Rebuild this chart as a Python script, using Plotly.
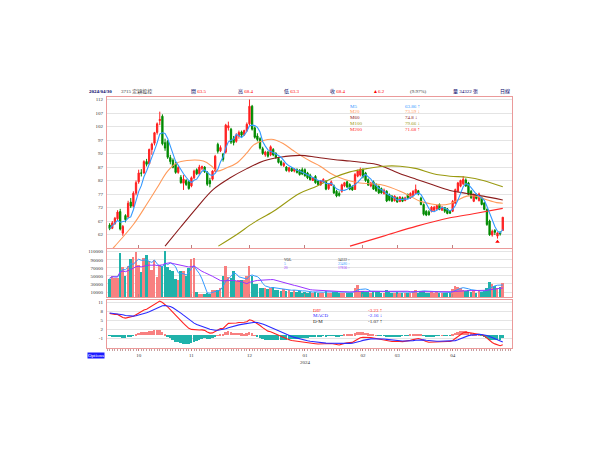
import plotly.graph_objects as go
import pandas as pd

# ---------------- data ----------------
opens = [65.5, 64.3, 66.0, 67.8, 70.5, 62.5, 69.0, 68.5, 74.0, 72.5,
         77.3, 81.5, 84.8, 84.8, 89.0, 88.2, 93.5, 95.8, 99.8, 104.2,
         105.8, 96.0, 96.5, 90.5, 89.5, 88.0, 85.0, 83.2, 81.0, 82.0,
         81.5, 80.0, 83.0, 86.0, 84.5, 86.5, 87.0, 85.0, 82.0, 82.5,
         85.5, 95.4, 93.0, 91.8, 92.5, 101.5, 101.0, 97.5, 96.5, 98.5,
         100.0, 99.0, 100.5, 103.0, 109.5, 101.5, 98.5, 97.5, 93.8, 91.5,
         92.5, 91.5, 93.5, 92.0, 90.2, 89.0, 87.5, 87.0, 85.5, 86.5,
         85.5, 86.0, 85.8, 86.0, 86.0, 84.8, 84.0, 82.0, 83.5, 81.8,
         80.5, 81.5, 81.8, 79.0, 80.2, 80.0, 78.0, 77.2, 78.0, 80.0,
         81.5, 80.5, 79.8, 78.7, 83.6, 84.0, 86.0, 84.8, 82.3, 80.0,
         81.5, 80.5, 79.8, 79.0, 77.2, 78.0, 76.8, 76.2, 74.5, 75.6,
         74.2, 75.6, 74.6, 76.8, 75.6, 76.5, 77.2, 78.2, 75.5, 73.1,
         70.6, 70.4, 70.6, 71.0, 71.5, 73.1, 71.0, 72.0, 71.5, 70.6,
         70.6, 73.6, 78.0, 79.9, 80.8, 82.2, 81.1, 78.0, 74.3, 76.8,
         74.6, 75.6, 73.7, 71.3, 67.0, 61.8, 63.5, 61.4, 62.8, 63.5]
highs = [66.2, 67.0, 68.5, 71.0, 71.5, 65.5, 69.5, 74.5, 75.5, 78.0,
         82.0, 86.0, 86.2, 89.5, 90.0, 93.8, 96.0, 100.0, 103.5, 107.5,
         106.5, 97.5, 97.0, 91.5, 90.2, 88.8, 87.5, 84.0, 84.0, 82.5,
         82.0, 83.5, 86.0, 86.5, 87.8, 87.5, 87.3, 85.5, 83.0, 85.8,
         91.5, 96.0, 95.0, 92.2, 103.0, 103.8, 101.5, 98.5, 99.5, 100.5,
         100.5, 100.8, 103.5, 112.0, 110.0, 102.0, 99.5, 98.0, 94.5, 93.0,
         93.0, 95.0, 94.0, 92.5, 90.8, 89.5, 88.8, 87.3, 87.0, 87.0,
         86.5, 86.5, 86.2, 86.8, 86.5, 85.2, 84.5, 83.2, 84.0, 82.2,
         82.2, 82.8, 82.0, 81.0, 82.0, 80.5, 78.5, 78.0, 80.8, 81.5,
         82.0, 81.0, 80.2, 84.8, 86.0, 86.8, 86.5, 85.2, 82.8, 81.5,
         82.0, 81.0, 80.2, 79.4, 79.0, 78.4, 77.2, 76.6, 76.5, 76.0,
         76.2, 76.0, 76.0, 77.2, 77.6, 78.4, 80.5, 78.5, 76.0, 73.5,
         71.0, 71.0, 72.5, 72.6, 73.0, 73.5, 72.5, 72.2, 71.8, 71.0,
         74.8, 79.0, 81.5, 82.3, 83.6, 82.8, 81.5, 78.5, 77.2, 77.2,
         77.5, 76.0, 74.0, 71.6, 67.5, 63.8, 64.0, 62.8, 63.2, 68.4]
lows = [63.6, 64.0, 65.6, 67.2, 63.5, 61.5, 66.5, 68.0, 71.8, 72.0,
        76.5, 80.8, 83.5, 84.5, 87.2, 88.0, 91.5, 95.0, 99.0, 102.5,
        95.0, 93.0, 90.0, 88.0, 86.5, 84.5, 84.5, 80.8, 78.5, 80.0,
        78.6, 79.5, 82.5, 84.0, 84.0, 85.8, 84.8, 80.0, 79.5, 82.0,
        85.0, 92.0, 92.5, 89.0, 92.0, 100.5, 95.5, 95.0, 96.0, 97.5,
        98.0, 98.5, 100.0, 102.5, 100.5, 97.5, 96.5, 93.5, 91.5, 90.8,
        90.5, 91.0, 91.0, 90.0, 88.3, 87.3, 87.0, 85.3, 85.0, 85.2,
        85.0, 84.6, 83.8, 84.0, 83.4, 82.5, 82.0, 81.8, 80.8, 80.2,
        80.0, 81.0, 78.4, 78.5, 80.0, 77.0, 75.8, 76.0, 77.5, 79.5,
        79.3, 78.4, 78.2, 78.5, 83.2, 83.5, 82.8, 81.5, 80.0, 79.5,
        78.5, 77.8, 77.0, 77.1, 76.8, 74.0, 74.3, 74.0, 74.2, 73.8,
        74.0, 74.0, 74.3, 75.2, 75.2, 76.2, 77.0, 76.5, 72.8, 69.0,
        68.8, 69.0, 70.2, 70.5, 71.0, 71.0, 70.8, 70.0, 69.5, 69.6,
        70.3, 73.3, 77.6, 79.5, 80.3, 79.6, 76.5, 75.2, 74.0, 75.0,
        74.2, 72.8, 71.0, 65.2, 61.5, 61.2, 61.8, 60.5, 61.6, 63.3]
closes = [64.2, 66.3, 68.0, 70.3, 64.0, 65.0, 67.5, 73.6, 72.5, 77.3,
          81.2, 84.8, 84.7, 89.0, 88.0, 93.5, 95.5, 99.7, 103.0, 104.6,
          95.6, 94.0, 90.6, 89.0, 86.9, 85.0, 86.8, 81.2, 82.5, 80.5,
          79.0, 83.0, 85.5, 84.5, 87.0, 87.2, 85.2, 80.6, 80.8, 85.5,
          91.0, 92.8, 94.2, 89.8, 102.5, 102.3, 96.2, 96.0, 98.8, 99.8,
          98.8, 100.5, 102.8, 109.5, 101.0, 98.0, 97.2, 94.0, 92.0, 92.5,
          91.0, 94.5, 91.5, 90.5, 88.7, 87.8, 88.3, 85.7, 86.7, 85.5,
          86.2, 85.0, 84.2, 84.4, 83.8, 83.0, 82.3, 83.0, 81.2, 80.5,
          81.8, 82.4, 78.8, 80.6, 81.5, 77.4, 76.3, 76.5, 80.4, 81.2,
          79.6, 78.8, 78.5, 84.2, 85.5, 86.0, 83.4, 82.0, 80.3, 81.0,
          78.8, 78.2, 77.4, 77.4, 78.4, 74.4, 74.7, 74.4, 76.2, 74.0,
          75.9, 74.3, 75.6, 75.6, 77.2, 78.0, 78.7, 77.0, 73.1, 69.5,
          69.2, 69.3, 72.1, 72.1, 72.7, 71.3, 72.1, 70.6, 69.8, 69.9,
          74.3, 78.6, 81.1, 82.0, 82.4, 80.0, 76.8, 75.6, 76.8, 75.3,
          77.0, 73.1, 71.3, 65.7, 61.9, 63.2, 62.8, 62.6, 62.2, 68.4]
volumes_k = [44, 52, 47, 47, 108, 73, 52, 77, 93, 98,
             110, 79, 62, 96, 103, 89, 67, 91, 48, 78,
             77, 114, 73, 67, 64, 44, 40, 64, 64, 50,
             72, 93, 96, 11, 7, 6, 7, 8, 7, 15,
             17, 16, 20, 52, 77, 48, 47, 64, 39, 40,
             42, 40, 50, 77, 52, 30, 32, 22, 21, 20,
             19, 22, 23, 15, 17, 14, 18, 13, 15, 12,
             16, 12, 14, 10, 12, 9, 11, 8, 12, 9,
             8, 10, 13, 9, 8, 12, 11, 9, 10, 9,
             8, 9, 10, 20, 29, 14, 13, 12, 11, 9,
             14, 12, 13, 10, 9, 15, 11, 10, 9, 11,
             8, 9, 10, 8, 9, 12, 15, 10, 13, 14,
             10, 9, 11, 10, 12, 9, 10, 8, 9, 8,
             18, 26, 23, 20, 17, 14, 16, 12, 14, 10,
             13, 12, 14, 20, 36, 30, 26, 22, 24, 34.322]

# long moving averages: (day index, value)
ma20_idx = [0, 2, 9, 14, 18, 22, 25.5, 29.3, 35.5, 38.7, 40.6, 44.4, 48.2, 52, 54.5, 58.3, 62.1, 65.9, 69.6, 72.2,
            76, 79.8, 83.5, 87.3, 91.1, 94.9, 98.7, 102.5, 106.3, 110.1, 113.9, 117.7, 121.5, 125.3, 129.1,
            131.6, 135.4, 139.1, 142.9, 146.7, 149]
ma20_val = [55.5, 57.7, 65.7, 73.1, 79.3, 85.5, 88.5, 89.4, 89.2, 87.3, 85.5, 86.7, 88.5, 92.2, 95.1, 96.8, 97.2, 95.6, 93.1, 91.4,
            89.2, 87.3, 84.8, 83.0, 81.8, 81.1, 80.8, 80.5, 79.5, 78.0, 76.2, 74.3, 73.4, 72.9, 73.4,
            74.6, 76.2, 76.2, 74.9, 73.8, 73.59]
ma60_idx = [21, 26.7, 33, 39.3, 45.7, 52, 58.3, 64.6, 72.2, 78.5, 84.8, 91.1, 97.4, 101.3, 106.3, 110.1, 116.4,
            122.7, 129, 135.4, 141.6, 149]
ma60_val = [57.7, 64.5, 71.9, 78.7, 83.0, 86.4, 89.2, 90.6, 91.3, 90.6, 89.8, 89.2, 88.5, 87.9, 86.1, 84.5, 82.4,
            80.3, 78.3, 77.2, 76.2, 74.8]
ma100_idx = [41.2, 48.2, 54.5, 62.1, 71.9, 78.5, 84.8, 91.1, 97.4, 103.8, 110.1, 116.4, 122.7, 129, 135.4, 141.6, 149]
ma100_val = [57.7, 62.0, 66.3, 70.6, 77.2, 79.9, 83.0, 85.2, 86.4, 87.3, 87.3, 86.4, 84.5, 83.6, 83.2, 82.0, 79.66]
ma200_idx = [91.1, 103.8, 116.4, 129, 137.9, 149]
ma200_val = [57.7, 61.4, 65.1, 68.2, 69.7, 71.68]

month_tick_idx = [11, 31, 53, 74, 96, 109, 130]
month_tick_labels = ["10", "11", "12", "01<br>2024", "02", "03", "04"]

price_ticks = [62, 67, 72, 77, 82, 87, 92, 97, 102, 107, 112]
vol_ticks = [10000, 30000, 50000, 70000, 90000, 110000]
macd_ticks = [-1, 2, 5, 8, 11]

# state of the indicators just before the first visible day
ema12_start, ema26_start, signal_start = 62.0, 54.3, 7.5

# ---------------- derived series ----------------
n = len(closes)
x = list(range(n))
volumes = [v * 1000 for v in volumes_k]
ma5 = pd.Series(closes).rolling(5, min_periods=1).mean()
vol_s = pd.Series(volumes)
vma5 = vol_s.rolling(5, min_periods=1).mean()
vma20 = vol_s.rolling(20, min_periods=1).mean()

dif, sig = [], []
e12, e26, s = ema12_start, ema26_start, signal_start
for c in closes:
    e12 += (c - e12) * 2 / 13
    e26 += (c - e26) * 2 / 27
    d = e12 - e26
    s += (d - s) * 2 / 10
    dif.append(d)
    sig.append(s)
hist = [a - b for a, b in zip(dif, sig)]

UP_C = "#ff2020"
DN_C = "#008a00"
UP_B = "#f88080"
DN_B = "#20b2aa"
is_up = [c >= o for c, o in zip(closes, opens)]

# the page body has an 8px margin; figure is sized to fit inside the 600x450 window
OFF = 8
FW, FH = 600 - 2 * OFF, 450 - 2 * OFF
def px(v):
    return (v - OFF) / FW
def py(v):
    return 1 - (v - OFF) / FH

X0, X1 = 107, 512
P_TOP, P_BOT = 97, 248
V_TOP, V_BOT = 248.5, 297
M_TOP, M_BOT = 300, 348

FONT = "Liberation Serif, Noto Sans CJK TC, serif"

fig = go.Figure()

fig.add_trace(go.Candlestick(
    x=x, open=opens, high=highs, low=lows, close=closes,
    increasing=dict(line=dict(color=UP_C, width=1), fillcolor=UP_C),
    decreasing=dict(line=dict(color=DN_C, width=1), fillcolor=DN_C),
    whiskerwidth=0, xaxis="x", yaxis="y", showlegend=False, hoverinfo="skip"))

ma_style = [
    (ma20_idx, ma20_val, "#ff9a5a"),
    (ma60_idx, ma60_val, "#8b1c1c"),
    (ma100_idx, ma100_val, "#9a9a10"),
    (ma200_idx, ma200_val, "#ff2a2a"),
]
for xi, yi, col in ma_style:
    fig.add_trace(go.Scatter(x=xi, y=yi, mode="lines", line=dict(color=col, width=1.1, shape="spline"),
                             xaxis="x", yaxis="y", showlegend=False, hoverinfo="skip"))
fig.add_trace(go.Scatter(x=x, y=ma5, mode="lines", line=dict(color="#3399ff", width=1.1),
                         xaxis="x", yaxis="y", showlegend=False, hoverinfo="skip"))

# lowest-low marker
lo_i = min(range(n), key=lambda i: lows[i])
fig.add_trace(go.Scatter(x=[lo_i], y=[lows[lo_i] - 1.2], mode="markers",
                         marker=dict(symbol="triangle-up", size=4, color="#ff0000"),
                         xaxis="x", yaxis="y", showlegend=False, hoverinfo="skip"))

# volume
fig.add_trace(go.Bar(x=x, y=volumes, marker=dict(color=[UP_B if u else DN_B for u in is_up], line=dict(width=0)),
                     width=0.75, xaxis="x2", yaxis="y2", showlegend=False, hoverinfo="skip"))
fig.add_trace(go.Scatter(x=x, y=vma5, mode="lines", line=dict(color="#3399ff", width=1.0),
                         xaxis="x2", yaxis="y2", showlegend=False, hoverinfo="skip"))
fig.add_trace(go.Scatter(x=x, y=vma20, mode="lines", line=dict(color="#9933ff", width=1.0),
                         xaxis="x2", yaxis="y2", showlegend=False, hoverinfo="skip"))

# MACD
fig.add_trace(go.Bar(x=x, y=hist, marker=dict(color=[UP_B if h >= 0 else DN_B for h in hist], line=dict(width=0)),
                     width=0.75, xaxis="x3", yaxis="y3", showlegend=False, hoverinfo="skip"))
fig.add_trace(go.Scatter(x=x, y=dif, mode="lines", line=dict(color="#ff2020", width=1.1),
                         xaxis="x3", yaxis="y3", showlegend=False, hoverinfo="skip"))
fig.add_trace(go.Scatter(x=x, y=sig, mode="lines", line=dict(color="#2a2aff", width=1.1),
                         xaxis="x3", yaxis="y3", showlegend=False, hoverinfo="skip"))

xrange = [-1.0, 152.5]
border = "#eb9a9a"
tickfont = dict(family=FONT, size=5, color="#333333")

def xax(show_labels, anchor):
    d = dict(domain=[px(X0), px(X1)], range=xrange, anchor=anchor,
             showline=True, linecolor=border, linewidth=1, mirror=True,
             showgrid=False, zeroline=False,
             tickmode="array", tickvals=month_tick_idx,
             ticks="inside", ticklen=3, tickcolor="#c08080", tickwidth=1,
             fixedrange=True)
    if show_labels:
        d.update(ticktext=month_tick_labels, showticklabels=True, tickfont=tickfont,
                 ticks="outside", ticklen=2,
                 minor=dict(tickmode="linear", tick0=0, dtick=1, ticks="outside", ticklen=2,
                            tickcolor="#c8a0a0", tickwidth=0.5))
    else:
        d.update(showticklabels=False)
    return d

def yax(dom_top, dom_bot, rng, ticks, anchor):
    return dict(domain=[py(dom_bot), py(dom_top)], range=rng, anchor=anchor,
                showline=True, linecolor=border, linewidth=1, mirror=True,
                showgrid=True, gridcolor="#e4e4e4", gridwidth=1, zeroline=False,
                tickmode="array", tickvals=ticks, ticktext=[str(t) for t in ticks],
                ticks="", tickfont=tickfont, ticklabelstandoff=2, fixedrange=True)

p_min = 112 - (P_BOT - 99.5) / 2.7
p_max = 112 + (99.5 - P_TOP) / 2.7
v_per_px = 10000 / 4.03
v_min = 10000 - (V_BOT - 292) * v_per_px
v_max = 10000 + (292 - V_TOP) * v_per_px
m_min = 11 - (M_BOT - 302.3) / 3.0
m_max = 11 + (302.3 - M_TOP) / 3.0

annotations = []
def txt(xp, yp, text, color="#222222", size=5, anchor="left", bold=False, bg=None):
    if bold:
        text = "<b>" + text + "</b>"
    a = dict(x=px(xp), y=py(yp), xref="paper", yref="paper", text=text, showarrow=False,
             xanchor=anchor, yanchor="middle", font=dict(family=FONT, size=size, color=color))
    if bg:
        a.update(bgcolor=bg, borderpad=0)
    annotations.append(a)

NAVY = "#000066"
RED = "#ff0000"
HY = 91.7
txt(87, HY, "2024/04/30", NAVY, bold=True)
txt(119, HY, "3715 定穎投控", "#333333")
txt(189, HY, f"<span style='color:{NAVY}'>開</span> 63.5", RED)
txt(236, HY, f"<span style='color:{NAVY}'>高</span> 68.4", RED)
txt(282, HY, f"<span style='color:{NAVY}'>低</span> 63.3", RED)
txt(328, HY, f"<span style='color:{NAVY}'>收</span> 68.4", RED)
txt(371, HY, "▲6.2", RED)
txt(408, HY, "(9.97%)", "#333333")
txt(451, HY, "量 34322 張", NAVY)
txt(498, HY, "日線", NAVY)

ma_labels = [("M5", "63.86 ↑", "#3399ff"), ("M20", "73.59 ↓", "#ff9a5a"), ("M60", "74.8 ↓", "#8b1c1c"),
             ("M100", "79.66 ↓", "#9a9a10"), ("M200", "71.68 ↑", "#ff2a2a")]
for k, (nm, val, col) in enumerate(ma_labels):
    yy = 106 + k * 5.8
    txt(348, yy, nm, col)
    txt(403, yy, val, col)

vol_labels = [("VOL", "34322 ↑", "#222222"), ("5", "23480 ↑", "#3399ff"), ("20", "17836 ↑", "#9933ff")]
for k, (nm, val, col) in enumerate(vol_labels):
    yy = 260 + k * 4.0
    txt(282, yy, nm, col, size=3.6)
    txt(352, yy, val, col, size=3.6, anchor="right")

macd_labels = [("DIF", "-3.23 ↑", "#ff2020"), ("MACD", "-2.16 ↓", "#2a2aff"), ("D-M", "-1.07 ↑", "#222222")]
for k, (nm, val, col) in enumerate(macd_labels):
    yy = 310 + k * 5.9
    txt(311, yy, nm, col)
    txt(366, yy, val, col)

txt(87, 355.5, "Options", "#ffffff", bg="#1a1aff")

fig.update_layout(
    width=FW, height=FH, margin=dict(l=0, r=0, t=0, b=0),
    paper_bgcolor="white", plot_bgcolor="white",
    showlegend=False, bargap=0,
    xaxis=dict(**xax(False, "y"), rangeslider=dict(visible=False)),
    xaxis2=xax(False, "y2"),
    xaxis3=xax(True, "y3"),
    yaxis=yax(P_TOP, P_BOT, [p_min, p_max], price_ticks, "x"),
    yaxis2=yax(V_TOP, V_BOT, [v_min, v_max], vol_ticks, "x2"),
    yaxis3=yax(M_TOP, M_BOT, [m_min, m_max], macd_ticks, "x3"),
    annotations=annotations,
)

fig.write_html("out.html")
